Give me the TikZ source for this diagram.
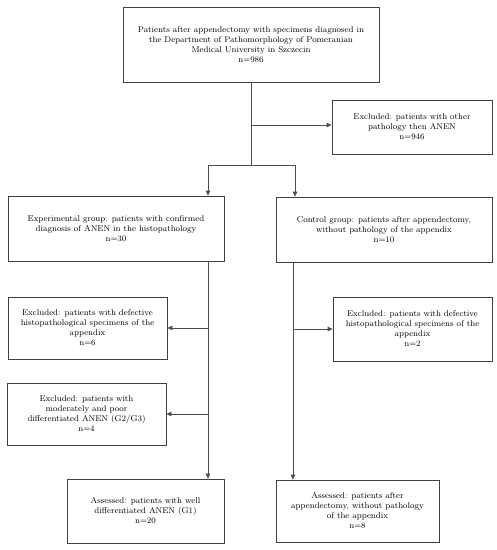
\documentclass[tikz,border=0pt]{standalone}
\usetikzlibrary{arrows.meta}
\begin{document}
\begin{tikzpicture}[x=1pt,y=-1pt,
  box/.style={draw=black!75, line width=0.8pt, inner sep=0pt, align=center,
    font=\fontsize{8.4}{10}\selectfont},
  conn/.style={draw=black!70, line width=0.8pt},
  arr/.style={conn, -{Triangle[length=5pt,width=4.5pt]}}]
\useasboundingbox (0,0) rectangle (497,550);
\node[box, minimum width=256pt, minimum height=75pt] (top) at (251,44.5)
  {Patients after appendectomy with specimens diagnosed in\\the Department of Pathomorphology of Pomeranian\\Medical University in Szczecin\\n=986};
\node[box, minimum width=160pt, minimum height=54pt] (ex1) at (412,127)
  {Excluded: patients with other\\pathology then ANEN\\n=946};
\node[box, minimum width=216pt, minimum height=65pt] (exp) at (116,228.5)
  {Experimental group: patients with confirmed\\diagnosis of ANEN in the histopathology\\n=30};
\node[box, minimum width=216pt, minimum height=65pt] (ctrl) at (384,229.5)
  {Control group: patients after appendectomy,\\without pathology of the appendix\\n=10};
\node[box, minimum width=159pt, minimum height=62pt] (defl) at (87.5,328)
  {Excluded: patients with defective\\histopathological specimens of the\\appendix\\n=6};
\node[box, minimum width=159pt, minimum height=64pt] (defr) at (412.5,329)
  {Excluded: patients with defective\\histopathological specimens of the\\appendix\\n=2};
\node[box, minimum width=159pt, minimum height=62pt] (mod) at (86.5,414)
  {Excluded: patients with\\moderately and poor\\differentiated ANEN (G2/G3)\\n=4};
\node[box, minimum width=157pt, minimum height=64pt] (asl) at (145.5,511)
  {Assessed: patients with well\\differentiated ANEN (G1)\\n=20};
\node[box, minimum width=163pt, minimum height=62pt] (asr) at (357.5,511)
  {Assessed: patients after\\appendectomy, without pathology\\of the appendix\\n=8};
\coordinate (split) at (251,165);
\coordinate (br) at (251,125);
\coordinate (sl) at (208,165);
\coordinate (sr) at (295,165);
\draw[conn] (top.south -| split) -- (split);
\draw[arr] (br) -- (br -| ex1.west);
\draw[conn] (sl) -- (sr);
\draw[arr] (sl) -- (sl |- exp.north);
\draw[arr] (sr) -- (sr |- ctrl.north);
\coordinate (lx) at (208,0);
\coordinate (rx) at (293,0);
\draw[arr] (lx |- exp.south) -- (lx |- asl.north);
\draw[arr] (rx |- ctrl.south) -- (rx |- asr.north);
\draw[arr] (lx |- defl.east) -- (defl.east);
\draw[arr] (lx |- mod.east) -- (mod.east);
\draw[arr] (rx |- defr.west) -- (defr.west);
\end{tikzpicture}
\end{document}
